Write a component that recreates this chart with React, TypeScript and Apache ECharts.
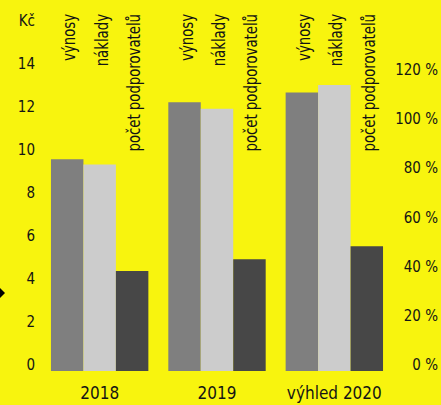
import React, { useEffect, useRef } from "react";
import * as echarts from "echarts";

const categories = ["2018", "2019", "výhled 2020"];
const seriesNames = ["výnosy", "náklady", "počet podporovatelů"];
const revenues = [9.85, 12.5, 12.95];
const costs = [9.6, 12.2, 13.3];
const supporters = [40.7, 45.5, 50.8];
const colors = ["#7f7f7f", "#cccccc", "#474747"];

const FONT = "'DejaVu Sans Condensed', sans-serif";
const TEXT = "#141414";
const BG = "#f8f40e";

export default function App() {
  const ref = useRef<HTMLDivElement>(null);
  useEffect(() => {
    if (!ref.current) return;
    const chart = echarts.init(ref.current, undefined, { renderer: "svg" });
    const option: any = {
      animation: false,
      backgroundColor: BG,
      textStyle: { fontFamily: FONT },
      grid: { left: 41, right: 46, top: 27, bottom: 34, containLabel: false },
      xAxis: {
        type: "category",
        data: categories,
        axisLine: { show: false },
        axisTick: { show: false },
        axisLabel: { color: TEXT, fontSize: 17, fontFamily: FONT, margin: 13, interval: 0 },
      },
      yAxis: [
        {
          type: "value",
          min: 0,
          max: 16,
          interval: 2,
          splitLine: { show: false },
          axisLine: { show: false },
          axisTick: { show: false },
          axisLabel: {
            color: TEXT,
            fontSize: 15,
            fontFamily: FONT,
            margin: 6,
            verticalAlign: "bottom",
            lineHeight: 12,
            formatter: (v: number) => (v === 16 ? "Kč" : String(v)),
          },
        },
        {
          type: "value",
          min: 0,
          max: 140,
          interval: 20,
          splitLine: { show: false },
          axisLine: { show: false },
          axisTick: { show: false },
          axisLabel: {
            color: TEXT,
            fontSize: 15,
            fontFamily: FONT,
            margin: 45,
            align: "right",
            verticalAlign: "bottom",
            lineHeight: 12,
            formatter: (v: number) => (v === 140 ? "" : v + " %"),
          },
        },
      ],
      series: [
        { name: seriesNames[0], type: "bar", data: revenues, yAxisIndex: 0, itemStyle: { color: colors[0] }, barGap: "0%", barCategoryGap: "17%" },
        { name: seriesNames[1], type: "bar", data: costs, yAxisIndex: 0, itemStyle: { color: colors[1] }, barGap: "0%", barCategoryGap: "17%" },
        { name: seriesNames[2], type: "bar", data: supporters, yAxisIndex: 1, itemStyle: { color: colors[2] }, barGap: "0%", barCategoryGap: "17%" },
      ],
    };
    chart.setOption(option);

    const c0 = chart.convertToPixel({ xAxisIndex: 0 }, categories[0]) as number;
    const c1 = chart.convertToPixel({ xAxisIndex: 0 }, categories[1]) as number;
    const band = c1 - c0;
    const barW = (band * 0.83) / 3;
    const texts: any[] = [];
    categories.forEach((cat) => {
      const cx = chart.convertToPixel({ xAxisIndex: 0 }, cat) as number;
      seriesNames.forEach((name, i) => {
        const x = cx + (i - 1) * barW + 2;
        texts.push({
          type: "text",
          x,
          y: 14,
          rotation: Math.PI / 2,
          scaleX: 0.82,
          style: {
            text: name,
            fill: TEXT,
            font: `18px ${FONT}`,
            align: "right",
            verticalAlign: "middle",
          },
        });
      });
    });
    texts.push({
      type: "polygon",
      shape: { points: [[-5, 293], [0, 288], [5, 293], [0, 298]] },
      style: { fill: "#000" },
    });
    chart.setOption({ graphic: texts });
    return () => chart.dispose();
  }, []);
  return <div ref={ref} style={{ width: 441, height: 405, position: "absolute", left: 0, top: 0 }} />;
}
